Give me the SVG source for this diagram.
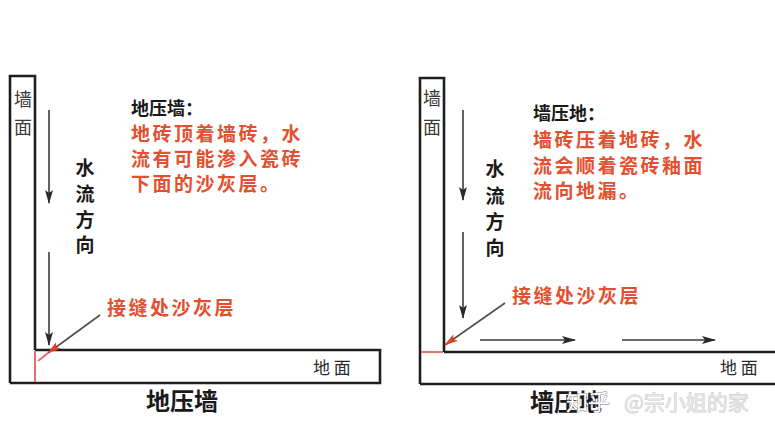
<svg xmlns="http://www.w3.org/2000/svg" width="775" height="436" viewBox="0 0 775 436">
<defs>
<style>
.ln{fill:none;stroke:#1e1e1e;stroke-width:2.6}
.seam{fill:none;stroke:#e2706a;stroke-width:2}
.flow{fill:none;stroke:#3a3a3a;stroke-width:1.6}
.ptr{fill:none;stroke:#5a4a48;stroke-width:1.6}
.cjk{font-family:"Noto Sans CJK SC","Noto Sans",sans-serif}
.blk{fill:#1a1a1a;font-weight:bold}
.red{fill:#e2502f;font-weight:bold;font-size:19px;letter-spacing:2.5px}
.wall{fill:#3a3a3a;font-size:18px;text-anchor:middle}
.floor{fill:#2a2a2a;font-size:17px}
.vert{fill:#1a1a1a;font-weight:bold;font-size:19px;text-anchor:middle}
</style>
<marker id="ah" viewBox="0 0 14 8" refX="13" refY="4" markerWidth="14" markerHeight="8" markerUnits="userSpaceOnUse" orient="auto">
<path d="M0,0 L14,4 L0,8 L3,4 Z" fill="#2a2a2a"/>
</marker>
<marker id="ahr" viewBox="0 0 14 8" refX="13" refY="4" markerWidth="14" markerHeight="8" markerUnits="userSpaceOnUse" orient="auto">
<path d="M0,0 L14,4 L0,8 L3,4 Z" fill="#d9432b"/>
</marker>
</defs>
<rect width="775" height="436" fill="#ffffff"/>

<g id="left-wall">
<path class="ln" d="M35,350 L35,76 L10,76 L10,383"/>
<text class="cjk wall" x="23" y="106">墙</text>
<text class="cjk wall" x="23" y="134">面</text>
</g>
<g id="left-floor">
<path class="ln" d="M35,350 L380,350 L380,383 L10,383"/>
<text class="cjk floor" x="313" y="374">地 面</text>
</g>
<g id="left-seam">
<line class="seam" x1="35" y1="351" x2="35" y2="382"/>
</g>
<g id="left-notes">
<text class="cjk blk" x="131" y="115" font-size="18">地压墙：</text>
<text class="cjk red" x="131" y="141">地砖顶着墙砖，水</text>
<text class="cjk red" x="131" y="166">流有可能渗入瓷砖</text>
<text class="cjk red" x="131" y="191">下面的沙灰层。</text>
<text class="cjk red" x="107" y="315">接缝处沙灰层</text>
<text class="cjk vert" x="85" y="175">水</text>
<text class="cjk vert" x="85" y="201">流</text>
<text class="cjk vert" x="85" y="227">方</text>
<text class="cjk vert" x="85" y="252">向</text>
<text class="cjk blk" x="146" y="410" font-size="24">地压墙</text>
</g>

<g id="right-wall">
<path class="ln" d="M444,352 L444,78 L420,78 L420,384"/>
<text class="cjk wall" x="432" y="105">墙</text>
<text class="cjk wall" x="432" y="134">面</text>
</g>
<g id="right-floor">
<path class="ln" d="M444,352 L776,352 M420,384 L776,384"/>
<text class="cjk floor" x="720" y="374">地 面</text>
</g>
<g id="right-seam">
<line class="seam" x1="421" y1="352" x2="443" y2="352"/>
</g>
<g id="right-notes">
<text class="cjk blk" x="533" y="120" font-size="18">墙压地：</text>
<text class="cjk red" x="533" y="147">墙砖压着地砖，水</text>
<text class="cjk red" x="533" y="173">流会顺着瓷砖釉面</text>
<text class="cjk red" x="533" y="198">流向地漏。</text>
<text class="cjk red" x="512" y="303">接缝处沙灰层</text>
<text class="cjk vert" x="495" y="176">水</text>
<text class="cjk vert" x="495" y="203">流</text>
<text class="cjk vert" x="495" y="229">方</text>
<text class="cjk vert" x="495" y="255">向</text>
<text class="cjk blk" x="530" y="411" font-size="24">墙压地</text>
</g>

<g id="connectors">
<line class="flow" x1="49" y1="110" x2="49" y2="203" marker-end="url(#ah)"/>
<line class="flow" x1="49" y1="252" x2="49" y2="345" marker-end="url(#ah)"/>
<line class="ptr" x1="100" y1="315" x2="48" y2="353" marker-end="url(#ahr)"/>
<line class="seam" x1="48" y1="353" x2="38" y2="361" stroke-width="1.4"/>
<line class="flow" x1="463" y1="110" x2="463" y2="200" marker-end="url(#ah)"/>
<line class="flow" x1="463" y1="232" x2="463" y2="318" marker-end="url(#ah)"/>
<line class="flow" x1="480" y1="340" x2="575" y2="340" marker-end="url(#ah)"/>
<line class="flow" x1="622" y1="340" x2="715" y2="340" marker-end="url(#ah)"/>
<line class="ptr" x1="505" y1="303" x2="445" y2="345" marker-end="url(#ahr)"/>
</g>

<g id="watermark">
<text class="cjk" x="566" y="410" font-size="22" fill="#ffffff" stroke="#777" stroke-width="0.8" paint-order="stroke">知乎</text>
<text class="cjk" x="624" y="410" font-size="21" fill="#e4e4e4" stroke="#b5b5b5" stroke-width="0.6" paint-order="stroke">@宗小姐的家</text>
</g>
</svg>
